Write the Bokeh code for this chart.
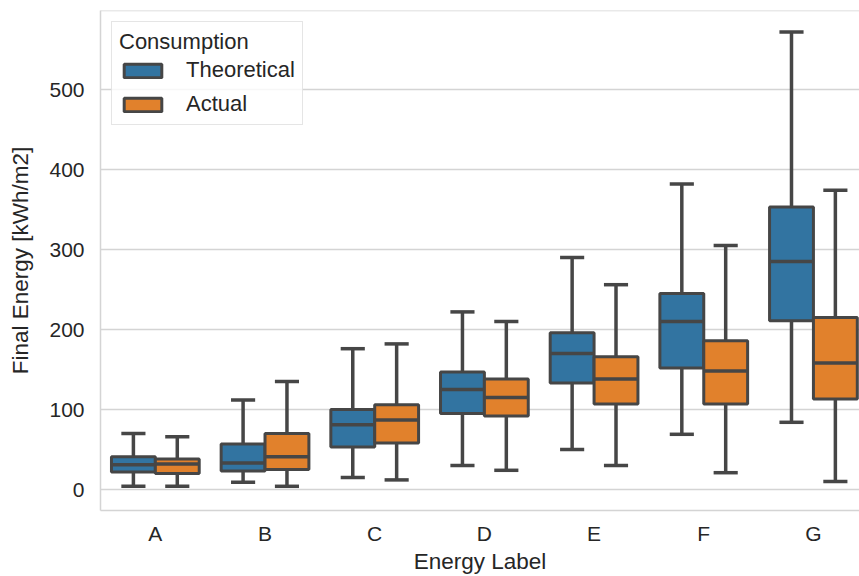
from bokeh.plotting import figure
from bokeh.models import ColumnDataSource, Range1d, FixedTicker, Span, Legend, LegendItem
from bokeh.embed import file_html
from bokeh.resources import INLINE

# ---- data ----
labels = ["A", "B", "C", "D", "E", "F", "G"]
series = ["Theoretical", "Actual"]

theo_low = [4, 9, 15, 30, 50, 69, 84]
theo_q1 = [22, 23, 53, 95, 133, 152, 211]
theo_med = [31, 33, 81, 125, 170, 210, 285]
theo_q3 = [41, 57, 100, 147, 196, 245, 353]
theo_high = [70, 112, 176, 222, 290, 382, 572]

act_low = [4, 4, 12, 24, 30, 21, 10]
act_q1 = [20, 25, 58, 92, 107, 107, 113]
act_med = [32, 41, 87, 115, 138, 148, 158]
act_q3 = [38, 70, 106, 138, 166, 186, 215]
act_high = [66, 135, 182, 210, 256, 305, 374]

y_ticks = [0, 100, 200, 300, 400, 500]

# ---- style ----
FONT = "Liberation Sans"
TXT = "#262626"
EDGE = "#464646"
GRID = "#d4d4d4"
colors = ["#3274a1", "#e1812c"]
offsets = [-0.2, 0.2]
box_w = 0.4
cap_half = 0.11

p = figure(width=859, height=576, output_backend="svg", toolbar_location=None,
           x_range=Range1d(-0.5, 6.42), y_range=Range1d(-26.25, 598.75))
p.min_border_left = 100
p.min_border_right = 0
p.min_border_top = 10
p.min_border_bottom = 66
p.outline_line_color = None
p.background_fill_color = "white"
p.border_fill_color = "white"

stats = [
    (theo_low, theo_q1, theo_med, theo_q3, theo_high),
    (act_low, act_q1, act_med, act_q3, act_high),
]

box_renderers = []
for k, (lo, q1, med, q3, hi) in enumerate(stats):
    xs = [i + offsets[k] for i in range(len(labels))]
    src = ColumnDataSource(dict(
        x=xs,
        xl=[x - box_w / 2 for x in xs], xr=[x + box_w / 2 for x in xs],
        cl=[x - cap_half for x in xs], cr=[x + cap_half for x in xs],
        lo=lo, q1=q1, med=med, q3=q3, hi=hi,
    ))
    p.segment(x0="x", y0="q3", x1="x", y1="hi", source=src, line_color=EDGE, line_width=3.5)
    p.segment(x0="x", y0="q1", x1="x", y1="lo", source=src, line_color=EDGE, line_width=3.5)
    p.segment(x0="cl", y0="hi", x1="cr", y1="hi", source=src, line_color=EDGE, line_width=3.5)
    p.segment(x0="cl", y0="lo", x1="cr", y1="lo", source=src, line_color=EDGE, line_width=3.5)
    r = p.vbar(x="x", width=box_w, bottom="q1", top="q3", source=src,
               fill_color=colors[k], line_color=EDGE, line_width=3)
    box_renderers.append(r)
    p.segment(x0="xl", y0="med", x1="xr", y1="med", source=src, line_color=EDGE, line_width=3.5)

# top spine
p.add_layout(Span(location=598.75, dimension="width", line_color=GRID, line_width=1.5))

# ---- axes ----
p.xaxis.ticker = FixedTicker(ticks=list(range(len(labels))))
p.xaxis.major_label_overrides = {i: lab for i, lab in enumerate(labels)}
p.yaxis.ticker = FixedTicker(ticks=y_ticks)
p.xaxis.axis_label = "Energy Label"
p.yaxis.axis_label = "Final Energy [kWh/m2]"

for ax in (p.xaxis, p.yaxis):
    ax.axis_line_color = GRID
    ax.axis_line_width = 1.5
    ax.major_tick_line_color = None
    ax.minor_tick_line_color = None
    ax.major_tick_out = 0
    ax.major_tick_in = 0
    ax.major_label_text_font = FONT
    ax.major_label_text_font_size = "21px"
    ax.major_label_text_color = TXT
    ax.axis_label_text_font = FONT
    ax.axis_label_text_font_size = "22.5px"
    ax.axis_label_text_font_style = "normal"
    ax.axis_label_text_color = TXT

p.yaxis.major_label_standoff = 16
p.xaxis.major_label_standoff = 11
p.yaxis.axis_label_standoff = 13
p.xaxis.axis_label_standoff = 1

p.xgrid.grid_line_color = None
p.ygrid.grid_line_color = GRID
p.ygrid.grid_line_width = 1.5

# ---- legend ----
legend = Legend(items=[LegendItem(label=s, renderers=[r]) for s, r in zip(series, box_renderers)],
                title="Consumption", location="top_left")
legend.margin = 11
legend.padding = 7
legend.spacing = 8
legend.glyph_width = 47
legend.glyph_height = 17
legend.label_standoff = 20
legend.title_standoff = 2
legend.title_text_font = FONT
legend.title_text_font_size = "22px"
legend.title_text_font_style = "normal"
legend.title_text_color = TXT
legend.label_text_font = FONT
legend.label_text_font_size = "22px"
legend.label_text_color = TXT
legend.border_line_color = "#cccccc"
legend.border_line_width = 1
legend.background_fill_alpha = 0.8
p.add_layout(legend)

open("out.html", "w").write(file_html(p, INLINE))
